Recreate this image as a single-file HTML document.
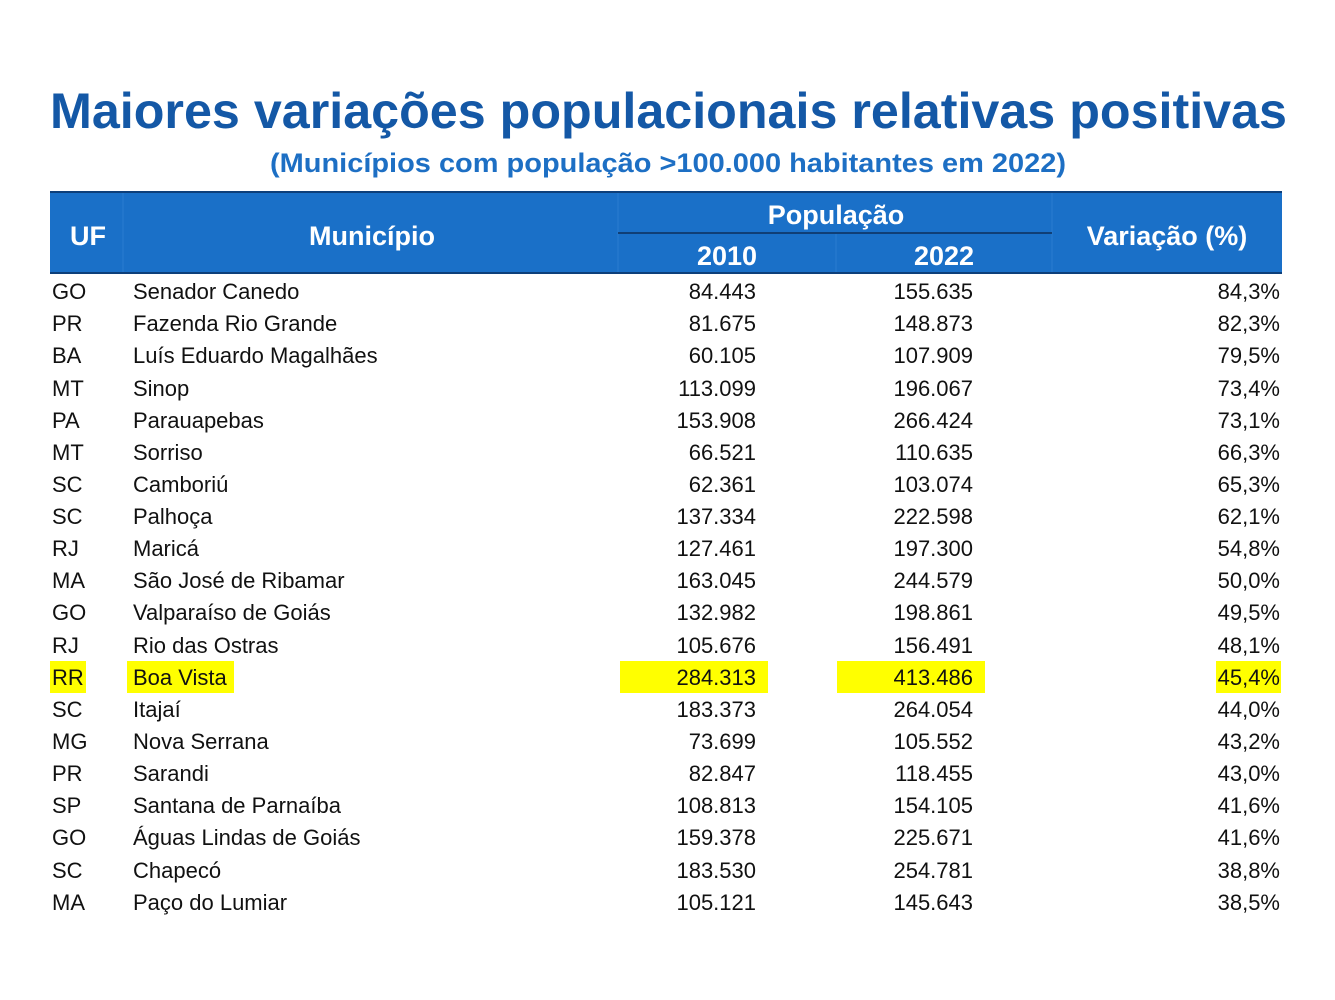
<!DOCTYPE html>
<html><head><meta charset="utf-8"><style>
html,body{margin:0;padding:0;background:#fff}
svg{display:block}
text{font-family:"Liberation Sans",sans-serif}
</style></head><body>
<svg width="1335" height="1000" viewBox="0 0 1335 1000" xmlns="http://www.w3.org/2000/svg">
<text x="50" y="128" font-size="50" font-weight="bold" fill="#1458a6" textLength="1237" lengthAdjust="spacingAndGlyphs">Maiores variações populacionais relativas positivas</text>
<text x="270" y="172" font-size="27" font-weight="bold" fill="#1d6fc4" textLength="796" lengthAdjust="spacingAndGlyphs">(Municípios com população &gt;100.000 habitantes em 2022)</text>
<rect x="50" y="192" width="1232" height="81" fill="#1a70c8"/>
<rect x="50" y="191" width="1232" height="2" fill="#0d3f7a"/>
<rect x="50" y="272" width="1232" height="2" fill="#0d3f7a"/>
<g stroke="#2a7ccf" stroke-width="1"><line x1="123" y1="193" x2="123" y2="272"/><line x1="618" y1="193" x2="618" y2="272"/><line x1="836" y1="234" x2="836" y2="272"/><line x1="1052" y1="193" x2="1052" y2="272"/></g>
<line x1="618" y1="233" x2="1052" y2="233" stroke="#0d2f5a" stroke-width="1.5"/>
<g fill="#fff" font-weight="bold" font-size="27" text-anchor="middle">
<text x="88" y="245">UF</text><text x="372" y="245">Município</text>
<text x="836" y="224">População</text><text x="727" y="265">2010</text><text x="944" y="265">2022</text>
<text x="1167" y="245">Variação (%)</text></g>
<g fill="#ffff00"><rect x="50" y="661" width="36" height="32"/><rect x="127" y="661" width="107" height="32"/><rect x="620" y="661" width="148" height="32"/><rect x="837" y="661" width="148" height="32"/><rect x="1216" y="661" width="65" height="32"/></g>
<g font-size="22" fill="#111">
<script type="text/plain"></script>
</g>
<g font-size="22" fill="#111" id="rows">
<text x="52" y="299">GO</text><text x="133" y="299">Senador Canedo</text><text x="756" y="299" text-anchor="end">84.443</text><text x="973" y="299" text-anchor="end">155.635</text><text x="1280" y="299" text-anchor="end">84,3%</text>
<text x="52" y="331">PR</text><text x="133" y="331">Fazenda Rio Grande</text><text x="756" y="331" text-anchor="end">81.675</text><text x="973" y="331" text-anchor="end">148.873</text><text x="1280" y="331" text-anchor="end">82,3%</text>
<text x="52" y="363">BA</text><text x="133" y="363">Luís Eduardo Magalhães</text><text x="756" y="363" text-anchor="end">60.105</text><text x="973" y="363" text-anchor="end">107.909</text><text x="1280" y="363" text-anchor="end">79,5%</text>
<text x="52" y="396">MT</text><text x="133" y="396">Sinop</text><text x="756" y="396" text-anchor="end">113.099</text><text x="973" y="396" text-anchor="end">196.067</text><text x="1280" y="396" text-anchor="end">73,4%</text>
<text x="52" y="428">PA</text><text x="133" y="428">Parauapebas</text><text x="756" y="428" text-anchor="end">153.908</text><text x="973" y="428" text-anchor="end">266.424</text><text x="1280" y="428" text-anchor="end">73,1%</text>
<text x="52" y="460">MT</text><text x="133" y="460">Sorriso</text><text x="756" y="460" text-anchor="end">66.521</text><text x="973" y="460" text-anchor="end">110.635</text><text x="1280" y="460" text-anchor="end">66,3%</text>
<text x="52" y="492">SC</text><text x="133" y="492">Camboriú</text><text x="756" y="492" text-anchor="end">62.361</text><text x="973" y="492" text-anchor="end">103.074</text><text x="1280" y="492" text-anchor="end">65,3%</text>
<text x="52" y="524">SC</text><text x="133" y="524">Palhoça</text><text x="756" y="524" text-anchor="end">137.334</text><text x="973" y="524" text-anchor="end">222.598</text><text x="1280" y="524" text-anchor="end">62,1%</text>
<text x="52" y="556">RJ</text><text x="133" y="556">Maricá</text><text x="756" y="556" text-anchor="end">127.461</text><text x="973" y="556" text-anchor="end">197.300</text><text x="1280" y="556" text-anchor="end">54,8%</text>
<text x="52" y="588">MA</text><text x="133" y="588">São José de Ribamar</text><text x="756" y="588" text-anchor="end">163.045</text><text x="973" y="588" text-anchor="end">244.579</text><text x="1280" y="588" text-anchor="end">50,0%</text>
<text x="52" y="620">GO</text><text x="133" y="620">Valparaíso de Goiás</text><text x="756" y="620" text-anchor="end">132.982</text><text x="973" y="620" text-anchor="end">198.861</text><text x="1280" y="620" text-anchor="end">49,5%</text>
<text x="52" y="653">RJ</text><text x="133" y="653">Rio das Ostras</text><text x="756" y="653" text-anchor="end">105.676</text><text x="973" y="653" text-anchor="end">156.491</text><text x="1280" y="653" text-anchor="end">48,1%</text>
<text x="52" y="685">RR</text><text x="133" y="685">Boa Vista</text><text x="756" y="685" text-anchor="end">284.313</text><text x="973" y="685" text-anchor="end">413.486</text><text x="1280" y="685" text-anchor="end">45,4%</text>
<text x="52" y="717">SC</text><text x="133" y="717">Itajaí</text><text x="756" y="717" text-anchor="end">183.373</text><text x="973" y="717" text-anchor="end">264.054</text><text x="1280" y="717" text-anchor="end">44,0%</text>
<text x="52" y="749">MG</text><text x="133" y="749">Nova Serrana</text><text x="756" y="749" text-anchor="end">73.699</text><text x="973" y="749" text-anchor="end">105.552</text><text x="1280" y="749" text-anchor="end">43,2%</text>
<text x="52" y="781">PR</text><text x="133" y="781">Sarandi</text><text x="756" y="781" text-anchor="end">82.847</text><text x="973" y="781" text-anchor="end">118.455</text><text x="1280" y="781" text-anchor="end">43,0%</text>
<text x="52" y="813">SP</text><text x="133" y="813">Santana de Parnaíba</text><text x="756" y="813" text-anchor="end">108.813</text><text x="973" y="813" text-anchor="end">154.105</text><text x="1280" y="813" text-anchor="end">41,6%</text>
<text x="52" y="845">GO</text><text x="133" y="845">Águas Lindas de Goiás</text><text x="756" y="845" text-anchor="end">159.378</text><text x="973" y="845" text-anchor="end">225.671</text><text x="1280" y="845" text-anchor="end">41,6%</text>
<text x="52" y="878">SC</text><text x="133" y="878">Chapecó</text><text x="756" y="878" text-anchor="end">183.530</text><text x="973" y="878" text-anchor="end">254.781</text><text x="1280" y="878" text-anchor="end">38,8%</text>
<text x="52" y="910">MA</text><text x="133" y="910">Paço do Lumiar</text><text x="756" y="910" text-anchor="end">105.121</text><text x="973" y="910" text-anchor="end">145.643</text><text x="1280" y="910" text-anchor="end">38,5%</text>
</g>
</svg>
</body></html>
